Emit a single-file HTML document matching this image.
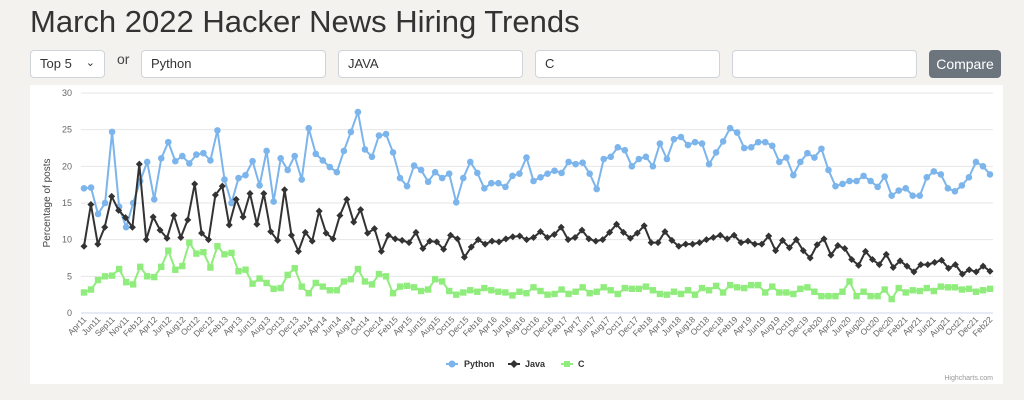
<!DOCTYPE html>
<html><head><meta charset="utf-8"><style>
body{margin:0;width:1024px;height:400px;background:#f3f2ee;font-family:"Liberation Sans",sans-serif;overflow:hidden;position:relative}
h1{position:absolute;left:30px;top:4px;margin:0;font-weight:normal;font-size:31px;color:#333}
.box{position:absolute;top:50px;height:28px;background:#fff;border:1px solid #ced4da;border-radius:4px;box-sizing:border-box;font-size:13px;color:#333;line-height:26px;padding-left:9px}
.or{position:absolute;left:117px;top:51px;font-size:14px;color:#444}
.btn{position:absolute;left:929px;top:50px;width:72px;height:28px;background:#6c757d;border-radius:4px;color:#fff;font-size:14px;line-height:28px;text-align:center}
#card{position:absolute;left:30px;top:85px;width:973px;height:299px;background:#fff}
</style></head><body>
<h1>March 2022 Hacker News Hiring Trends</h1>
<div class="box" style="left:30px;width:75px">Top 5 <span style="position:absolute;right:9px;top:-1px;font-size:11px">&#8964;</span></div>
<div class="or">or</div>
<div class="box" style="left:141px;width:185px">Python</div>
<div class="box" style="left:338px;width:185px">JAVA</div>
<div class="box" style="left:535px;width:185px">C</div>
<div class="box" style="left:732px;width:185px"></div>
<div class="btn">Compare</div>
<div id="card"></div>
<svg id="s" width="1024" height="400" style="position:absolute;left:0;top:0" font-family="Liberation Sans, sans-serif">
<g font-size="9" fill="#666" text-anchor="end">
<text x="72" y="96">30</text><text x="72" y="132.7">25</text><text x="72" y="169.3">20</text><text x="72" y="206">15</text><text x="72" y="242.7">10</text><text x="72" y="279.3">5</text><text x="72" y="316">0</text>
</g>
<text transform="translate(50,203) rotate(-90)" font-size="10" fill="#444" text-anchor="middle">Percentage of posts</text>
<g font-size="9" font-weight="bold" fill="#333">
<circle cx="452" cy="364" r="3.5" fill="#7cb5ec"/><line x1="446" y1="364" x2="458" y2="364" stroke="#7cb5ec" stroke-width="2"/><text x="464" y="367">Python</text>
<line x1="508" y1="364" x2="520" y2="364" stroke="#333" stroke-width="2"/><path d="M514 360L518 364L514 368L510 364Z" fill="#333"/><text x="525" y="367">Java</text>
<line x1="561" y1="364" x2="573" y2="364" stroke="#90ed7d" stroke-width="2"/><rect x="564" y="361" width="6" height="6" fill="#90ed7d"/><text x="578" y="367">C</text>
</g>
<text x="993" y="380" font-size="7" fill="#999" text-anchor="end">Highcharts.com</text>
<g id="g"></g>
</svg>
<script>
var P=[17,17.1,13.5,15,24.7,14.5,11.7,15,18,20.6,15.5,21.1,23.3,20.7,21.4,20.4,21.6,21.8,20.8,24.9,18.2,15,18.4,18.8,20.7,17.4,22.1,15.2,21.1,19.5,21.4,18.2,25.2,21.7,20.8,19.9,19.2,22.1,24.7,27.4,22.3,21.3,24.2,24.4,21.9,18.4,17.3,20.1,19.5,17.9,19.2,18.4,19,15.1,18.4,20.6,19.1,17,17.7,17.7,17.2,18.7,19,21.2,18,18.5,19,19.4,19.1,20.6,20.3,20.5,19,16.9,21,21.3,22.6,22.2,20,21,21.3,20,23.1,21,23.7,24,22.9,23.3,23.1,20.3,21.9,23.4,25.2,24.6,22.5,22.6,23.3,23.3,22.8,20.6,21.2,18.8,20.6,21.8,21.2,22.4,19.5,17.3,17.6,18,18,18.7,18,17.2,18.6,16,16.7,17,16,16,18.5,19.3,18.9,17,16.6,17.4,18.5,20.6,20,18.9];
var J=[9.1,14.8,9.4,11.7,15.9,14,13,11.7,20.3,10,13.1,11.3,10.2,13.3,10.3,12.7,17.6,10.9,10,16.1,17.3,12,15.5,13.1,16.3,12.1,16.3,11.1,9.9,16.8,10.6,8.4,11,9.8,13.9,10.9,10.1,13.3,15.5,12.4,14.1,10.9,11.5,8.4,10.6,10.1,9.9,9.6,11,8.8,9.8,9.7,8.7,10.6,10.1,7.6,9,10,9.4,9.8,9.7,10.1,10.4,10.5,10,10.3,11.1,10.3,10.7,11.7,10,10.3,11.3,10.1,9.8,10,11,12.1,11,10.2,10.9,11.9,9.6,9.6,11.1,9.9,9.1,9.4,9.4,9.6,10,10.3,10.6,10.1,10.6,9.6,9.8,9.4,9.4,10.5,8.5,9.9,8.9,10,8.5,7.5,9.3,10.1,7.9,9.2,8.8,7.3,6.5,8.4,7.3,6.6,8,6.2,7.1,6.4,5.6,6.6,6.6,6.9,7.2,6.1,6.6,5.3,5.9,5.6,6.4,5.7];
var C=[2.8,3.2,4.5,5,5.1,6,4.2,3.9,6.3,5,4.9,6.3,8.5,5.9,6.4,9.6,8.1,8.3,6.2,9.1,8,8.2,5.7,5.9,4,4.7,4.1,3.3,3.4,5.2,6.1,3.6,2.7,4.1,3.6,3.1,3.1,4.3,4.6,6,4.3,3.9,5.3,5,2.7,3.6,3.7,3.5,3,3.2,4.6,4.3,3,2.5,2.8,3.1,2.9,3.4,3.1,2.9,2.8,2.4,2.9,2.7,3.5,3,2.5,2.6,3.2,2.6,2.9,3.5,2.7,2.9,3.5,3.1,2.6,3.4,3.3,3.3,3.6,3.1,2.6,2.5,2.9,2.6,3.1,2.5,3.4,3.1,3.7,2.8,3.8,3.5,3.4,3.8,3.8,2.8,3.6,2.8,2.8,2.6,3.3,3.5,2.9,2.3,2.3,2.3,2.9,4.3,2.3,2.9,2.3,2.3,3.2,1.9,3.4,2.8,3.1,3,3.4,3,3.6,3.5,3.5,3.2,3.3,2.9,3.1,3.3];
var L="Apr11 Jun11 Sep11 Nov11 Feb12 Apr12 Jun12 Aug12 Oct12 Dec12 Feb13 Apr13 Jun13 Aug13 Oct13 Dec13 Feb14 Apr14 Jun14 Aug14 Oct14 Dec14 Feb15 Apr15 Jun15 Aug15 Oct15 Dec15 Feb16 Apr16 Jun16 Aug16 Oct16 Dec16 Feb17 Apr17 Jun17 Aug17 Oct17 Dec17 Feb18 Apr18 Jun18 Aug18 Oct18 Dec18 Feb19 Apr19 Jun19 Aug19 Oct19 Dec19 Feb20 Apr20 Jun20 Aug20 Oct20 Dec20 Feb21 Apr21 Jun21 Aug21 Oct21 Dec21 Feb22".split(" ");
var x0=84,x1=990,y=function(v){return 313-v*7.333};
var h='';
for(var k=0;k<=6;k++){var yy=93+k*36.67;h+='<line x1="81" x2="993" y1="'+yy+'" y2="'+yy+'" stroke="'+(k==6?'#ccd6eb':'#e6e6e6')+'"/>';}
L.forEach(function(t,i){var xx=x0+(x1-x0)*i/(L.length-1);h+='<text transform="translate('+(xx+3)+',320) rotate(-45)" text-anchor="end" font-size="8.5" fill="#666">'+t+'</text>';});
function ser(d,col,m){var n=d.length,pts=d.map(function(v,i){return [x0+(x1-x0)*i/(n-1),y(v)]});
h+='<polyline fill="none" stroke="'+col+'" stroke-width="2" points="'+pts.map(function(p){return p[0].toFixed(1)+','+p[1].toFixed(1)}).join(' ')+'"/>';
pts.forEach(function(p){if(m==0)h+='<circle cx="'+p[0]+'" cy="'+p[1]+'" r="3.3" fill="'+col+'"/>';else if(m==1)h+='<path d="M'+p[0]+' '+(p[1]-3.5)+'l3.5 3.5l-3.5 3.5l-3.5 -3.5z" fill="'+col+'"/>';else h+='<rect x="'+(p[0]-3.2)+'" y="'+(p[1]-3.2)+'" width="6.4" height="6.4" fill="'+col+'"/>';});}
ser(P,'#7cb5ec',0);ser(J,'#333',1);ser(C,'#90ed7d',2);
document.getElementById('g').innerHTML=h;
</script>
</body></html>
